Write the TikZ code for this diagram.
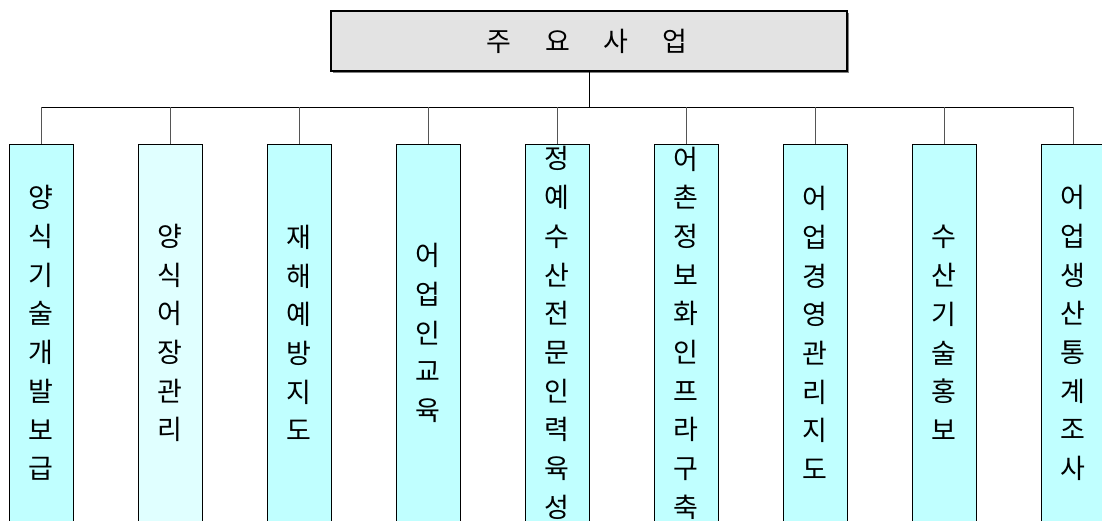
\documentclass[tikz,border=0pt]{standalone}
\usepackage{fontspec}
\newfontfamily\kr{Noto Sans CJK KR}
\usetikzlibrary{shadows}
\definecolor{boxcyan}{HTML}{C0FFFF}
\definecolor{boxpale}{HTML}{E0FFFF}
\definecolor{topgray}{HTML}{E3E3E3}
\definecolor{linegray}{HTML}{555555}
\tikzset{
  x=1pt, y=-1pt,
  topbox/.style={draw=black, line width=1.2pt, fill=topgray, minimum width=516pt, minimum height=60pt,
    inner sep=0pt, font=\kr\fontsize{27}{30}\selectfont,
    drop shadow={shadow xshift=1.5pt, shadow yshift=-1.5pt, fill=gray, opacity=1}},
  itembox/.style={draw=black, line width=0.9pt, fill=boxcyan, minimum width=64pt, minimum height=378pt,
    inner sep=0pt, align=center, font=\kr\fontsize{27}{38.7}\selectfont,
    drop shadow={shadow xshift=1.2pt, shadow yshift=0pt, fill=gray!80, opacity=1}},
  bus/.style={draw=black, line width=1pt},
  drop/.style={draw=linegray, line width=1pt},
}
\begin{document}
\begin{tikzpicture}
\useasboundingbox (0,0) rectangle (1102,520);
\node[topbox] (top) at (589,41) {\hspace{-4pt}주\hspace{34pt}요\hspace{34pt}사\hspace{34pt}업};
\coordinate (bus) at (589,107);
\node[itembox] (b1) at (41,333) {양\\식\\기\\술\\개\\발\\보\\급};
\node[itembox, fill=boxpale] (b2) at (170,333) {양\\식\\어\\장\\관\\리};
\node[itembox] (b3) at (299,333) {재\\해\\예\\방\\지\\도};
\node[itembox] (b4) at (428,333) {어\\업\\인\\교\\육};
\node[itembox] (b5) at (557,333) {정\\예\\수\\산\\전\\문\\인\\력\\육\\성};
\node[itembox] (b6) at (686,333) {어\\촌\\정\\보\\화\\인\\프\\라\\구\\축};
\node[itembox] (b7) at (815,333) {어\\업\\경\\영\\관\\리\\지\\도};
\node[itembox] (b8) at (944,333) {수\\산\\기\\술\\홍\\보};
\node[itembox] (b9) at (1073,333) {어\\업\\생\\산\\통\\계\\조\\사};
\draw[bus] (top.south) -- (bus);
\draw[bus] (b1.north |- bus) -- (b9.north |- bus);
\foreach \b in {b1,b2,b3,b4,b5,b6,b7,b8,b9}
  \draw[drop] (\b.north) -- (\b.north |- bus);
\end{tikzpicture}
\end{document}
